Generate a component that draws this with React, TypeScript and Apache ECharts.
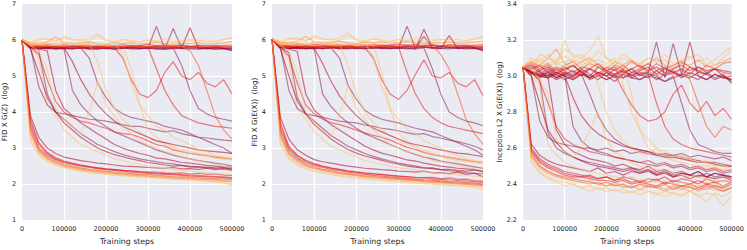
import React, { useEffect, useRef } from 'react';
import * as echarts from 'echarts';

const STEPS = [0, 20000, 40000, 60000, 80000, 100000, 120000, 140000, 160000, 180000, 200000, 220000, 240000, 260000, 280000, 300000, 320000, 340000, 360000, 380000, 400000, 420000, 440000, 460000, 480000, 500000];

const Y_TITLES = ['FID X G(Z)  (log)', 'FID X G(E(X))  (log)', 'Inception L2 X G(E(X))  (log)'];
const X_TITLE = 'Training steps';

// colour key per run (same runs in all three panels)
const RUN_COLORS = [
  'p', 'd', 'R', 'y', 'o', 'p', 'd', 'y', 'R', 'd', 'r',
  'R', 'o', 'y', 'R', 'r', 'y', 'd', 'R', 'o',
  'p', 'd', 'p', 'y', 'p', 'R', 'd',
  'p', 'R', 'y', 'p', 'R', 'y', 'd', 'r', 'y', 'y',
];

const COLOR_MAP: Record<string, string> = {
  y: '#fdc36a',
  o: '#fd8d3c',
  r: '#f4511e',
  R: '#e31a1c',
  d: '#b10026',
  p: '#8e1f4f',
};

const FID_GZ: number[][] = [
  [6.0,5.78,5.76,5.79,5.75,5.78,5.76,5.8,5.77,5.74,5.78,5.76,5.79,5.75,5.77,5.78,5.74,5.77,5.79,5.76,5.75,5.78,5.77,5.74,5.76,5.72],
  [6.0,5.84,5.81,5.78,5.82,5.79,5.8,5.77,5.81,5.79,5.78,5.82,5.77,5.8,5.79,5.76,5.81,5.78,5.79,5.77,5.8,5.78,5.76,5.79,5.77,5.78],
  [6.0,5.9,5.86,5.88,5.84,5.87,5.83,5.86,5.85,5.82,5.86,5.84,5.87,5.83,5.85,5.88,5.84,5.86,5.83,5.85,5.82,5.86,5.84,5.85,5.83,5.82],
  [6.0,5.96,5.99,6.04,5.97,6.06,5.99,6.01,5.96,6.12,5.98,5.94,6.0,5.97,5.95,5.99,5.96,5.98,5.93,5.97,5.99,6.0,5.95,5.97,6.02,6.06],
  [6.0,5.92,5.9,5.95,6.08,5.93,5.9,5.92,5.95,5.9,5.88,5.92,5.9,5.93,5.89,5.91,5.94,5.9,5.88,5.91,5.9,5.93,5.89,5.9,5.92,5.96],
  [6.0,5.8,5.76,5.78,5.75,5.77,5.76,5.79,5.74,5.76,5.78,5.75,5.77,5.8,5.76,5.78,6.38,5.75,6.32,5.77,5.76,5.74,5.78,5.75,5.77,5.7],
  [6.0,5.78,5.8,5.76,5.79,5.77,5.75,5.78,5.76,5.79,5.77,5.74,5.78,5.76,5.75,5.78,5.77,5.74,5.76,5.78,6.34,5.77,5.75,5.78,5.76,5.74],
  [6.0,5.88,6.04,6.0,5.97,6.1,6.02,5.98,6.05,6.18,6.0,5.97,6.02,5.99,5.96,6.0,5.98,6.03,5.97,5.99,6.01,5.98,6.0,5.96,6.0,6.08],
  [6.0,5.82,5.84,5.8,5.83,5.81,5.84,5.8,5.82,5.85,5.81,5.83,5.8,5.82,5.84,5.81,5.83,5.8,5.82,5.84,5.81,5.83,5.8,5.82,5.81,5.8],
  [6.0,5.83,5.8,5.82,5.79,5.81,5.83,5.8,5.78,5.82,5.8,5.79,5.81,5.78,5.8,5.82,5.79,5.81,5.8,5.78,5.82,5.8,5.79,5.81,5.78,5.76],
  [6.0,5.86,5.83,5.85,5.82,5.84,5.86,5.82,5.85,5.83,5.8,5.84,5.82,5.86,5.83,5.81,5.85,5.82,5.84,5.86,5.83,5.8,5.84,5.82,5.85,5.86],
  [6.0,3.6,3.0,2.8,2.68,2.6,2.55,2.5,2.46,2.43,2.4,2.38,2.36,2.33,2.32,2.3,2.28,2.27,2.26,2.24,2.22,2.21,2.2,2.19,2.18,2.15],
  [6.0,3.4,2.9,2.72,2.6,2.52,2.47,2.42,2.38,2.35,2.33,2.3,2.28,2.26,2.25,2.23,2.21,2.2,2.18,2.17,2.16,2.14,2.13,2.12,2.1,2.08],
  [6.0,3.3,2.85,2.65,2.55,2.48,2.42,2.38,2.34,2.31,2.29,2.27,2.24,2.22,2.21,2.19,2.18,2.16,2.14,2.13,2.12,2.1,2.08,2.06,2.04,2.0],
  [6.0,3.8,3.15,2.88,2.74,2.64,2.58,2.53,2.49,2.45,2.42,2.4,2.38,2.36,2.34,2.32,2.3,2.29,2.28,2.26,2.25,2.24,2.22,2.21,2.2,2.18],
  [6.0,3.5,2.95,2.75,2.63,2.56,2.5,2.45,2.41,2.38,2.36,2.33,2.31,2.29,2.27,2.26,2.24,2.23,2.21,2.2,2.19,2.18,2.16,2.15,2.14,2.12],
  [6.0,3.2,2.8,2.62,2.52,2.46,2.4,2.36,2.32,2.3,2.27,2.25,2.23,2.21,2.19,2.18,2.17,2.15,2.14,2.12,2.11,2.1,2.08,2.07,2.05,1.95],
  [6.0,3.9,3.3,3.0,2.85,2.75,2.7,2.65,2.62,2.58,2.56,2.53,2.5,2.49,2.48,2.46,2.45,2.44,2.46,2.42,2.43,2.41,2.44,2.4,2.42,2.38],
  [6.0,3.7,3.1,2.85,2.7,2.62,2.56,2.52,2.48,2.45,2.42,2.4,2.38,2.37,2.35,2.34,2.33,2.31,2.3,2.31,2.28,2.3,2.27,2.28,2.25,2.24],
  [6.0,3.45,2.92,2.7,2.58,2.5,2.45,2.4,2.37,2.34,2.31,2.29,2.27,2.25,2.23,2.22,2.2,2.19,2.17,2.16,2.15,2.13,2.12,2.11,2.09,2.06],
  [6.0,5.8,5.7,4.5,4.0,3.8,3.6,3.4,3.25,3.1,3.0,2.9,2.82,2.76,2.7,2.66,2.62,2.58,2.56,2.52,2.5,2.48,2.47,2.45,2.44,2.42],
  [6.0,5.8,5.75,5.7,4.6,4.1,3.9,3.7,3.55,3.4,3.25,3.1,3.0,2.92,2.85,2.8,2.72,2.7,2.65,2.6,2.58,2.55,2.52,2.5,2.48,2.46],
  [6.0,5.8,5.78,5.76,5.77,5.75,4.6,4.2,3.95,3.75,3.6,3.45,3.35,3.25,3.15,3.05,2.95,2.88,2.8,2.75,2.7,2.65,2.62,2.58,2.55,2.5],
  [6.0,5.8,5.5,4.2,3.9,3.5,3.3,3.1,3.0,2.9,2.8,2.7,2.65,2.6,2.55,2.5,2.47,2.45,2.4,2.38,2.36,2.34,2.32,2.3,2.28,2.26],
  [6.0,5.8,4.7,4.2,4.0,3.95,3.9,3.85,3.8,3.78,3.75,3.7,3.65,3.6,3.6,3.55,3.5,3.45,3.48,3.4,3.35,3.3,3.28,3.25,3.22,3.2],
  [6.0,5.8,5.6,4.9,4.3,4.0,3.85,3.75,3.7,3.62,3.55,3.45,3.4,3.38,3.3,3.2,3.1,3.05,2.95,2.9,2.85,2.82,2.8,2.75,2.72,2.7],
  [6.0,5.75,5.1,4.4,4.0,3.7,3.5,3.3,3.15,3.0,2.9,2.82,2.76,2.7,2.65,2.6,2.57,2.53,2.5,2.52,2.47,2.48,2.45,2.44,2.46,2.42],
  [6.0,5.8,5.78,5.8,5.77,5.79,5.76,5.78,5.5,4.8,4.4,4.1,3.95,3.85,3.8,3.75,3.7,3.6,3.55,3.5,3.4,3.3,3.2,3.1,3.0,2.85],
  [6.0,5.8,5.79,5.77,5.8,5.78,5.76,5.79,5.77,5.78,5.76,5.79,5.5,4.9,4.5,4.4,4.6,5.1,5.4,5.0,4.9,5.1,4.8,4.7,4.9,4.5],
  [6.0,5.85,5.87,5.84,5.86,5.83,5.85,5.87,5.84,5.86,5.85,5.83,5.86,5.2,4.2,3.5,3.3,3.1,3.0,2.9,2.85,2.8,2.76,2.72,2.7,2.68],
  [6.0,5.8,5.78,5.77,5.79,5.76,5.78,5.8,5.77,5.79,5.76,5.78,5.77,5.79,5.76,5.78,5.77,5.75,5.78,5.3,4.6,4.1,3.95,3.85,3.8,3.75],
  [6.0,5.82,5.8,5.83,5.79,5.81,5.8,5.82,5.78,5.81,5.79,5.8,5.82,5.79,5.81,5.8,5.2,4.6,4.2,3.9,3.8,3.7,3.65,3.6,3.58,3.55],
  [6.0,5.9,5.88,5.92,5.89,5.9,5.91,5.88,5.9,5.4,4.6,4.1,3.8,3.6,3.45,3.3,3.2,3.15,3.05,2.95,2.9,2.85,2.8,2.77,2.74,2.72],
  [6.0,5.8,5.77,5.79,5.76,5.78,5.4,4.9,4.5,4.2,3.95,3.75,3.6,3.5,3.4,3.3,3.2,3.15,3.1,3.05,3.0,2.95,2.92,2.9,2.88,2.85],
  [6.0,5.82,5.8,5.83,5.8,5.82,5.79,5.81,5.83,5.8,5.82,5.79,5.81,5.83,5.8,5.82,5.79,5.81,5.8,5.83,5.7,5.3,4.6,3.9,3.5,3.25],
  [6.0,5.85,5.7,5.2,4.1,3.8,3.6,3.4,4.0,4.85,4.2,3.9,3.6,3.4,3.2,3.1,3.0,2.9,2.85,2.75,2.7,2.65,2.6,2.55,2.5,2.45],
  [6.0,5.9,5.92,5.88,5.91,5.93,5.89,5.92,5.9,5.91,5.88,5.92,5.6,4.8,4.2,3.9,3.6,3.5,3.3,3.2,3.1,2.95,2.9,2.8,2.75,2.7],
];

const FID_GEX: number[][] = [
  [6.02,5.8,5.77,5.8,5.76,5.79,5.77,5.8,5.78,5.75,5.79,5.77,5.8,5.76,5.78,5.79,5.75,5.78,5.8,5.77,5.76,5.79,5.78,5.75,5.77,5.72],
  [6.02,5.86,5.82,5.79,5.83,5.8,5.81,5.78,5.82,5.8,5.79,5.83,5.78,5.81,5.8,5.77,5.82,5.79,5.8,5.78,5.81,5.79,5.77,5.8,5.78,5.79],
  [6.02,5.92,5.87,5.9,5.85,5.88,5.84,5.87,5.86,5.83,5.87,5.85,5.88,5.84,5.86,5.89,5.85,5.87,5.84,5.86,5.83,5.87,5.85,5.86,5.84,5.83],
  [6.02,5.98,6.0,6.06,5.98,6.08,6.0,6.03,5.97,6.14,5.99,5.95,6.02,5.98,5.96,6.0,5.97,5.99,5.94,5.98,6.0,6.02,5.96,5.98,6.03,6.08],
  [6.02,5.94,5.92,5.97,6.1,5.95,5.92,5.94,5.97,5.92,5.9,5.94,5.92,5.95,5.91,5.93,5.96,5.92,5.9,5.93,5.92,5.95,5.91,5.92,5.94,5.97],
  [6.02,5.8,5.77,5.79,5.76,5.78,5.77,5.8,5.75,5.77,5.79,5.76,5.78,5.81,5.77,5.79,6.38,5.76,6.1,5.78,5.77,5.75,5.79,5.76,5.78,5.7],
  [6.02,5.79,5.81,5.77,5.8,5.78,5.76,5.79,5.77,5.8,5.78,5.75,5.79,5.77,5.76,5.79,5.78,5.75,6.3,5.79,5.77,6.12,5.76,5.79,5.77,5.74],
  [6.02,5.9,6.06,6.02,5.98,6.12,6.04,5.99,6.07,6.2,6.02,5.98,6.04,6.0,5.97,6.02,5.99,6.05,5.98,6.0,6.02,5.99,6.02,5.97,6.02,6.1],
  [6.02,5.83,5.85,5.81,5.84,5.82,5.85,5.81,5.83,5.86,5.82,5.84,5.81,5.83,5.85,5.82,5.84,5.81,5.83,5.85,5.82,5.84,5.81,5.83,5.82,5.81],
  [6.02,5.84,5.81,5.83,5.8,5.82,5.84,5.81,5.79,5.83,5.81,5.8,5.82,5.79,5.81,5.83,5.8,5.82,5.81,5.79,5.83,5.81,5.8,5.82,5.79,5.76],
  [6.02,5.88,5.84,5.86,5.83,5.85,5.87,5.83,5.86,5.84,5.81,5.85,5.83,5.87,5.84,5.82,5.86,5.83,5.85,5.87,5.84,5.81,5.85,5.83,5.86,5.87],
  [6.02,3.5,2.95,2.72,2.6,2.52,2.46,2.41,2.37,2.33,2.3,2.27,2.24,2.22,2.2,2.18,2.16,2.14,2.12,2.11,2.09,2.07,2.06,2.04,2.03,2.0],
  [6.02,3.3,2.82,2.62,2.5,2.43,2.38,2.33,2.29,2.26,2.23,2.2,2.18,2.16,2.14,2.12,2.1,2.08,2.06,2.05,2.03,2.01,2.0,1.99,1.97,1.95],
  [6.02,3.2,2.75,2.56,2.46,2.38,2.33,2.29,2.25,2.22,2.19,2.17,2.14,2.12,2.1,2.08,2.06,2.05,2.03,2.01,2.0,1.98,1.97,1.95,1.93,1.88],
  [6.02,3.7,3.05,2.8,2.66,2.57,2.5,2.45,2.41,2.37,2.34,2.31,2.29,2.27,2.24,2.22,2.2,2.18,2.17,2.15,2.13,2.12,2.1,2.09,2.07,2.05],
  [6.02,3.4,2.88,2.68,2.55,2.47,2.41,2.37,2.32,2.29,2.26,2.23,2.21,2.19,2.17,2.15,2.13,2.11,2.09,2.08,2.06,2.05,2.03,2.02,2.0,1.98],
  [6.02,3.1,2.7,2.52,2.42,2.35,2.3,2.26,2.22,2.19,2.16,2.14,2.12,2.1,2.08,2.06,2.05,2.03,2.01,2.0,1.98,1.97,1.95,1.94,1.92,1.84],
  [6.02,3.85,3.25,2.95,2.8,2.68,2.62,2.58,2.54,2.5,2.47,2.44,2.42,2.4,2.39,2.36,2.35,2.33,2.36,2.31,2.32,2.29,2.33,2.27,2.3,2.2],
  [6.02,3.6,3.0,2.78,2.64,2.55,2.49,2.44,2.4,2.36,2.33,2.3,2.28,2.26,2.24,2.22,2.21,2.19,2.18,2.19,2.15,2.17,2.13,2.14,2.1,2.08],
  [6.02,3.35,2.85,2.64,2.52,2.44,2.39,2.34,2.3,2.27,2.24,2.21,2.19,2.17,2.15,2.13,2.11,2.1,2.08,2.06,2.05,2.03,2.02,2.0,1.98,1.95],
  [6.02,5.8,5.65,4.4,3.95,3.75,3.55,3.35,3.2,3.05,2.95,2.85,2.77,2.7,2.64,2.58,2.54,2.5,2.46,2.43,2.4,2.37,2.35,2.32,2.3,2.28],
  [6.02,5.8,5.75,5.68,4.5,4.05,3.85,3.65,3.5,3.35,3.2,3.05,2.95,2.86,2.8,2.74,2.67,2.64,2.58,2.54,2.5,2.47,2.44,2.42,2.4,2.36],
  [6.02,5.8,5.78,5.76,5.77,5.75,4.5,4.15,3.9,3.7,3.55,3.4,3.3,3.2,3.1,3.0,2.9,2.82,2.75,2.7,2.64,2.6,2.56,2.52,2.48,2.44],
  [6.02,5.8,5.4,4.1,3.8,3.45,3.25,3.05,2.95,2.85,2.75,2.65,2.6,2.55,2.5,2.45,2.42,2.39,2.35,2.32,2.3,2.28,2.26,2.24,2.22,2.2],
  [6.02,5.8,4.6,4.1,3.95,3.9,3.85,3.8,3.75,3.72,3.7,3.64,3.6,3.55,3.52,3.48,3.42,3.38,3.4,3.32,3.28,3.22,3.18,3.12,3.05,2.95],
  [6.02,5.8,5.55,4.8,4.2,3.95,3.8,3.7,3.65,3.58,3.5,3.42,3.35,3.3,3.22,3.12,3.02,2.96,2.88,2.82,2.78,2.74,2.7,2.66,2.62,2.6],
  [6.02,5.75,5.0,4.3,3.95,3.65,3.45,3.25,3.1,2.96,2.86,2.78,2.72,2.66,2.6,2.55,2.5,2.47,2.44,2.45,2.4,2.41,2.38,2.36,2.39,2.34],
  [6.02,5.8,5.78,5.8,5.77,5.79,5.76,5.78,5.5,4.75,4.35,4.05,3.9,3.8,3.75,3.7,3.62,3.55,3.5,3.45,3.35,3.25,3.15,3.05,2.95,2.8],
  [6.02,5.8,5.79,5.77,5.8,5.78,5.76,5.79,5.77,5.78,5.76,5.79,5.5,4.9,4.5,4.35,4.6,5.05,5.45,5.0,4.95,5.1,4.8,4.7,4.9,4.45],
  [6.02,5.86,5.88,5.85,5.87,5.84,5.86,5.88,5.85,5.87,5.86,5.84,5.87,5.1,4.1,3.4,3.2,3.0,2.9,2.82,2.76,2.7,2.66,2.62,2.6,2.56],
  [6.02,5.8,5.78,5.77,5.79,5.76,5.78,5.8,5.77,5.79,5.76,5.78,5.77,5.79,5.76,5.78,5.77,5.75,5.78,5.2,4.5,4.0,3.85,3.75,3.7,3.62],
  [6.02,5.82,5.8,5.83,5.79,5.81,5.8,5.82,5.78,5.81,5.79,5.8,5.82,5.79,5.81,5.8,5.1,4.5,4.1,3.85,3.7,3.6,3.55,3.5,3.45,3.4],
  [6.02,5.9,5.88,5.92,5.89,5.9,5.91,5.88,5.9,5.3,4.5,4.0,3.7,3.5,3.35,3.2,3.1,3.05,2.95,2.86,2.8,2.75,2.7,2.66,2.63,2.6],
  [6.02,5.8,5.77,5.79,5.76,5.78,5.35,4.85,4.45,4.15,3.9,3.7,3.55,3.45,3.35,3.25,3.15,3.1,3.05,3.0,2.95,2.9,2.86,2.84,2.8,2.76],
  [6.02,5.82,5.8,5.83,5.8,5.82,5.79,5.81,5.83,5.8,5.82,5.79,5.81,5.83,5.8,5.82,5.79,5.81,5.8,5.83,5.6,5.2,4.5,3.8,3.4,3.1],
  [6.02,5.85,5.7,5.1,4.0,3.7,3.5,3.3,3.9,4.75,4.1,3.8,3.5,3.3,3.1,3.0,2.9,2.8,2.74,2.66,2.6,2.55,2.5,2.46,2.42,2.38],
  [6.02,5.9,5.92,5.88,5.91,5.93,5.89,5.92,5.9,5.91,5.88,5.92,5.55,4.7,4.1,3.8,3.5,3.4,3.2,3.1,3.0,2.86,2.8,2.7,2.66,2.6],
];

const INC_GEX: number[][] = [
  [3.05,3.02,3.0,3.03,2.99,3.02,3.0,3.04,3.01,2.98,3.02,3.0,3.03,2.99,3.01,3.02,2.98,3.01,3.03,3.0,2.99,3.02,3.01,2.98,3.0,2.97],
  [3.05,3.05,3.02,3.0,3.04,3.01,3.03,3.0,3.04,3.02,3.0,3.04,2.99,3.02,3.01,2.99,3.03,3.0,3.02,2.99,3.02,3.0,2.98,3.01,2.99,3.0],
  [3.05,3.07,3.04,3.06,3.02,3.05,3.02,3.05,3.04,3.01,3.05,3.03,3.06,3.02,3.04,3.07,3.03,3.05,3.02,3.04,3.01,3.05,3.03,3.04,3.02,3.01],
  [3.05,3.1,3.08,3.12,3.06,3.2,3.1,3.12,3.08,3.14,3.1,3.06,3.1,3.08,3.07,3.1,3.08,3.09,3.05,3.08,3.1,3.12,3.06,3.09,3.13,3.16],
  [3.05,3.08,3.06,3.1,3.15,3.07,3.05,3.08,3.1,3.06,3.04,3.08,3.06,3.09,3.05,3.07,3.1,3.06,3.04,3.07,3.06,3.09,3.05,3.06,3.08,3.1],
  [3.05,3.02,3.0,3.02,2.99,3.01,3.0,3.03,2.98,3.0,3.02,2.99,3.01,3.04,3.0,3.02,3.19,2.99,3.18,3.01,3.0,2.98,3.02,2.99,3.01,2.96],
  [3.05,3.01,3.03,2.99,3.02,3.0,2.98,3.01,2.99,3.02,3.0,2.97,3.01,2.99,2.98,3.01,3.0,2.97,2.99,3.01,3.19,3.0,2.98,3.01,2.99,2.98],
  [3.05,3.04,3.12,3.1,3.08,3.15,3.12,3.1,3.14,3.22,3.1,3.08,3.12,3.09,3.06,3.1,3.08,3.12,3.07,3.09,3.11,3.08,3.1,3.06,3.1,3.14],
  [3.05,3.04,3.06,3.02,3.05,3.03,3.06,3.02,3.04,3.07,3.03,3.05,3.02,3.04,3.06,3.03,3.05,3.02,3.04,3.06,3.03,3.05,3.02,3.04,3.03,3.02],
  [3.05,3.06,3.03,3.05,3.01,3.04,3.06,3.02,3.0,3.05,3.03,3.01,3.04,3.0,3.03,3.05,3.01,3.04,3.02,3.0,3.05,3.03,3.01,3.04,3.0,2.98],
  [3.05,3.08,3.05,3.07,3.03,3.06,3.08,3.04,3.07,3.05,3.02,3.06,3.04,3.08,3.05,3.03,3.07,3.04,3.06,3.08,3.05,3.02,3.06,3.04,3.07,3.08],
  [3.05,2.58,2.52,2.49,2.47,2.45,2.44,2.44,2.43,2.42,2.42,2.41,2.42,2.4,2.41,2.4,2.39,2.41,2.4,2.39,2.4,2.38,2.4,2.39,2.38,2.4],
  [3.05,2.55,2.49,2.46,2.44,2.43,2.42,2.41,2.4,2.41,2.39,2.4,2.38,2.39,2.37,2.39,2.38,2.36,2.38,2.37,2.39,2.36,2.38,2.37,2.36,2.38],
  [3.05,2.53,2.47,2.44,2.42,2.41,2.4,2.38,2.39,2.37,2.38,2.36,2.37,2.35,2.37,2.36,2.34,2.36,2.35,2.33,2.36,2.34,2.3,2.35,2.33,2.36],
  [3.05,2.6,2.54,2.51,2.49,2.47,2.46,2.45,2.44,2.43,2.44,2.42,2.43,2.41,2.42,2.41,2.43,2.4,2.42,2.41,2.4,2.42,2.4,2.41,2.39,2.41],
  [3.05,2.57,2.5,2.47,2.45,2.44,2.43,2.42,2.41,2.4,2.41,2.39,2.4,2.38,2.4,2.39,2.38,2.4,2.37,2.39,2.38,2.37,2.39,2.38,2.36,2.38],
  [3.05,2.52,2.46,2.43,2.41,2.39,2.4,2.38,2.36,2.38,2.36,2.37,2.35,2.36,2.34,2.36,2.35,2.33,2.35,2.34,2.36,2.33,2.35,2.34,2.28,2.33],
  [3.05,2.62,2.56,2.53,2.51,2.5,2.49,2.48,2.47,2.49,2.46,2.47,2.45,2.47,2.46,2.48,2.45,2.47,2.44,2.46,2.45,2.47,2.44,2.46,2.45,2.44],
  [3.05,2.59,2.53,2.5,2.48,2.46,2.45,2.44,2.45,2.43,2.44,2.42,2.44,2.43,2.41,2.43,2.42,2.44,2.41,2.43,2.42,2.4,2.43,2.41,2.42,2.41],
  [3.05,2.56,2.5,2.47,2.45,2.43,2.42,2.41,2.42,2.4,2.39,2.41,2.39,2.38,2.4,2.38,2.39,2.37,2.39,2.38,2.36,2.38,2.37,2.39,2.37,2.38],
  [3.05,3.02,2.98,2.68,2.6,2.57,2.55,2.53,2.52,2.51,2.5,2.49,2.48,2.49,2.47,2.48,2.46,2.47,2.45,2.46,2.45,2.44,2.46,2.44,2.45,2.43],
  [3.05,3.02,3.0,2.99,2.7,2.62,2.58,2.56,2.54,2.53,2.52,2.5,2.51,2.49,2.48,2.5,2.47,2.48,2.46,2.47,2.45,2.47,2.44,2.46,2.45,2.44],
  [3.05,3.02,3.01,3.0,3.02,3.0,2.72,2.64,2.6,2.58,2.57,2.55,2.54,2.53,2.52,2.51,2.5,2.51,2.49,2.5,2.48,2.49,2.47,2.48,2.46,2.47],
  [3.05,3.0,2.95,2.62,2.56,2.52,2.5,2.48,2.47,2.46,2.45,2.44,2.43,2.44,2.42,2.43,2.41,2.42,2.4,2.41,2.4,2.39,2.41,2.4,2.39,2.4],
  [3.05,3.0,2.75,2.66,2.63,2.62,2.61,2.6,2.6,2.59,2.6,2.58,2.59,2.57,2.58,2.57,2.56,2.57,2.56,2.57,2.55,2.56,2.55,2.54,2.55,2.53],
  [3.05,3.02,2.97,2.85,2.72,2.65,2.62,2.6,2.58,2.57,2.56,2.55,2.54,2.53,2.52,2.53,2.51,2.52,2.5,2.51,2.49,2.5,2.48,2.49,2.47,2.48],
  [3.05,3.0,2.85,2.7,2.63,2.58,2.55,2.53,2.51,2.5,2.49,2.48,2.47,2.48,2.46,2.47,2.45,2.46,2.44,2.45,2.43,2.45,2.44,2.43,2.44,2.42],
  [3.05,3.02,3.0,3.02,2.99,3.01,2.99,3.01,2.9,2.78,2.7,2.65,2.62,2.6,2.59,2.58,2.57,2.56,2.56,2.55,2.54,2.53,2.52,2.52,2.51,2.5],
  [3.05,3.02,3.01,2.99,3.02,3.0,2.98,3.01,2.99,3.0,2.98,3.01,2.92,2.84,2.78,2.75,2.76,2.8,2.9,2.95,2.85,2.8,2.86,2.78,2.82,2.76],
  [3.05,3.07,3.08,3.06,3.07,3.05,3.06,3.08,3.06,3.07,3.06,3.05,3.07,2.9,2.7,2.6,2.57,2.55,2.53,2.52,2.51,2.5,2.5,2.49,2.48,2.48],
  [3.05,3.02,3.0,2.99,3.01,2.98,3.0,3.02,2.99,3.01,2.98,3.0,2.99,3.01,2.98,3.0,2.99,2.97,3.0,2.85,2.7,2.62,2.6,2.58,2.57,2.57],
  [3.05,3.03,3.01,3.04,3.0,3.02,3.01,3.03,2.99,3.02,3.0,3.01,3.03,3.0,3.02,3.01,2.85,2.72,2.65,2.62,2.6,2.59,2.58,2.57,2.56,2.55],
  [3.05,3.08,3.06,3.1,3.07,3.08,3.09,3.06,3.08,2.95,2.8,2.7,2.64,2.6,2.57,2.56,2.6,2.55,2.54,2.56,2.53,2.52,2.53,2.51,2.5,2.5],
  [3.05,3.02,2.99,3.01,2.98,3.0,2.88,2.78,2.72,2.68,2.65,2.63,2.61,2.6,2.59,2.58,2.56,2.55,2.55,2.54,2.53,2.52,2.52,2.51,2.5,2.5],
  [3.05,3.03,3.01,3.04,3.01,3.03,3.0,3.02,3.04,3.01,3.03,3.0,3.02,3.04,3.01,3.03,3.0,3.02,3.01,3.04,2.98,2.85,2.72,2.66,2.72,2.7],
  [3.05,3.04,2.98,2.9,2.65,2.58,2.55,2.6,2.7,2.8,2.65,2.58,2.55,2.52,2.5,2.49,2.48,2.47,2.46,2.45,2.44,2.44,2.43,2.42,2.42,2.41],
  [3.05,3.08,3.1,3.07,3.09,3.11,3.08,3.1,3.08,3.09,3.07,3.1,2.95,2.8,2.7,2.65,2.6,2.58,2.56,2.55,2.54,2.52,2.52,2.5,2.5,2.49],
];

const PANELS = [FID_GZ, FID_GEX, INC_GEX];
const Y_RANGES = [
  { min: 1, max: 7, interval: 1 },
  { min: 1, max: 7, interval: 1 },
  { min: 2.2, max: 3.4, interval: 0.2 },
];

const FONT = 'DejaVu Sans';
const TEXT = '#262626';
const LEFTS = [21, 272, 523];

export default function App() {
  const ref = useRef<HTMLDivElement>(null);
  useEffect(() => {
    document.body.style.margin = '0';
    if (!ref.current) return;
    const chart = echarts.init(ref.current, undefined, { renderer: 'svg' });
    const grid = LEFTS.map((l) => ({
      left: l, top: 4, width: 211, height: 223,
      show: true, backgroundColor: '#EAEAF2', borderWidth: 0,
    }));
    const xAxis = LEFTS.map((_, i) => ({
      type: 'value', gridIndex: i, min: 0, max: 500000, interval: 100000,
      axisLine: { show: false }, axisTick: { show: false },
      splitLine: { show: true, showMinLine: false, showMaxLine: false, lineStyle: { color: '#ffffff', width: 1.2 } },
      axisLabel: { color: TEXT, fontFamily: FONT, fontSize: 6.5, margin: 5, formatter: (v: number) => String(Math.round(v)) },
      name: X_TITLE, nameLocation: 'middle', nameGap: 13,
      nameTextStyle: { color: TEXT, fontFamily: FONT, fontSize: 7.8 },
    }));
    const yAxis = Y_RANGES.map((r, i) => ({
      type: 'value', gridIndex: i, min: r.min, max: r.max, interval: r.interval,
      axisLine: { show: false }, axisTick: { show: false },
      splitLine: { show: true, showMinLine: false, showMaxLine: false, lineStyle: { color: '#ffffff', width: 1.2 } },
      axisLabel: {
        color: TEXT, fontFamily: FONT, fontSize: 6.5, margin: 6,
        formatter: (v: number) => (i === 2 ? v.toFixed(1) : String(Math.round(v))),
      },
      name: Y_TITLES[i], nameLocation: 'middle', nameGap: i === 2 ? 14 : 10,
      nameTextStyle: { color: TEXT, fontFamily: FONT, fontSize: 7.2 },
    }));
    const series: any[] = [];
    PANELS.forEach((rows, p) => {
      rows.forEach((row, k) => {
        series.push({
          type: 'line', xAxisIndex: p, yAxisIndex: p, silent: true,
          symbol: 'none', showSymbol: false,
          data: STEPS.map((x, j) => [x, row[j]]),
          lineStyle: { color: COLOR_MAP[RUN_COLORS[k]], width: 1.2, opacity: 0.55 },
        });
      });
    });
    chart.setOption({ animation: false, grid, xAxis, yAxis, series });
    return () => chart.dispose();
  }, []);
  return <div ref={ref} style={{ width: 747, height: 250 }} />;
}
